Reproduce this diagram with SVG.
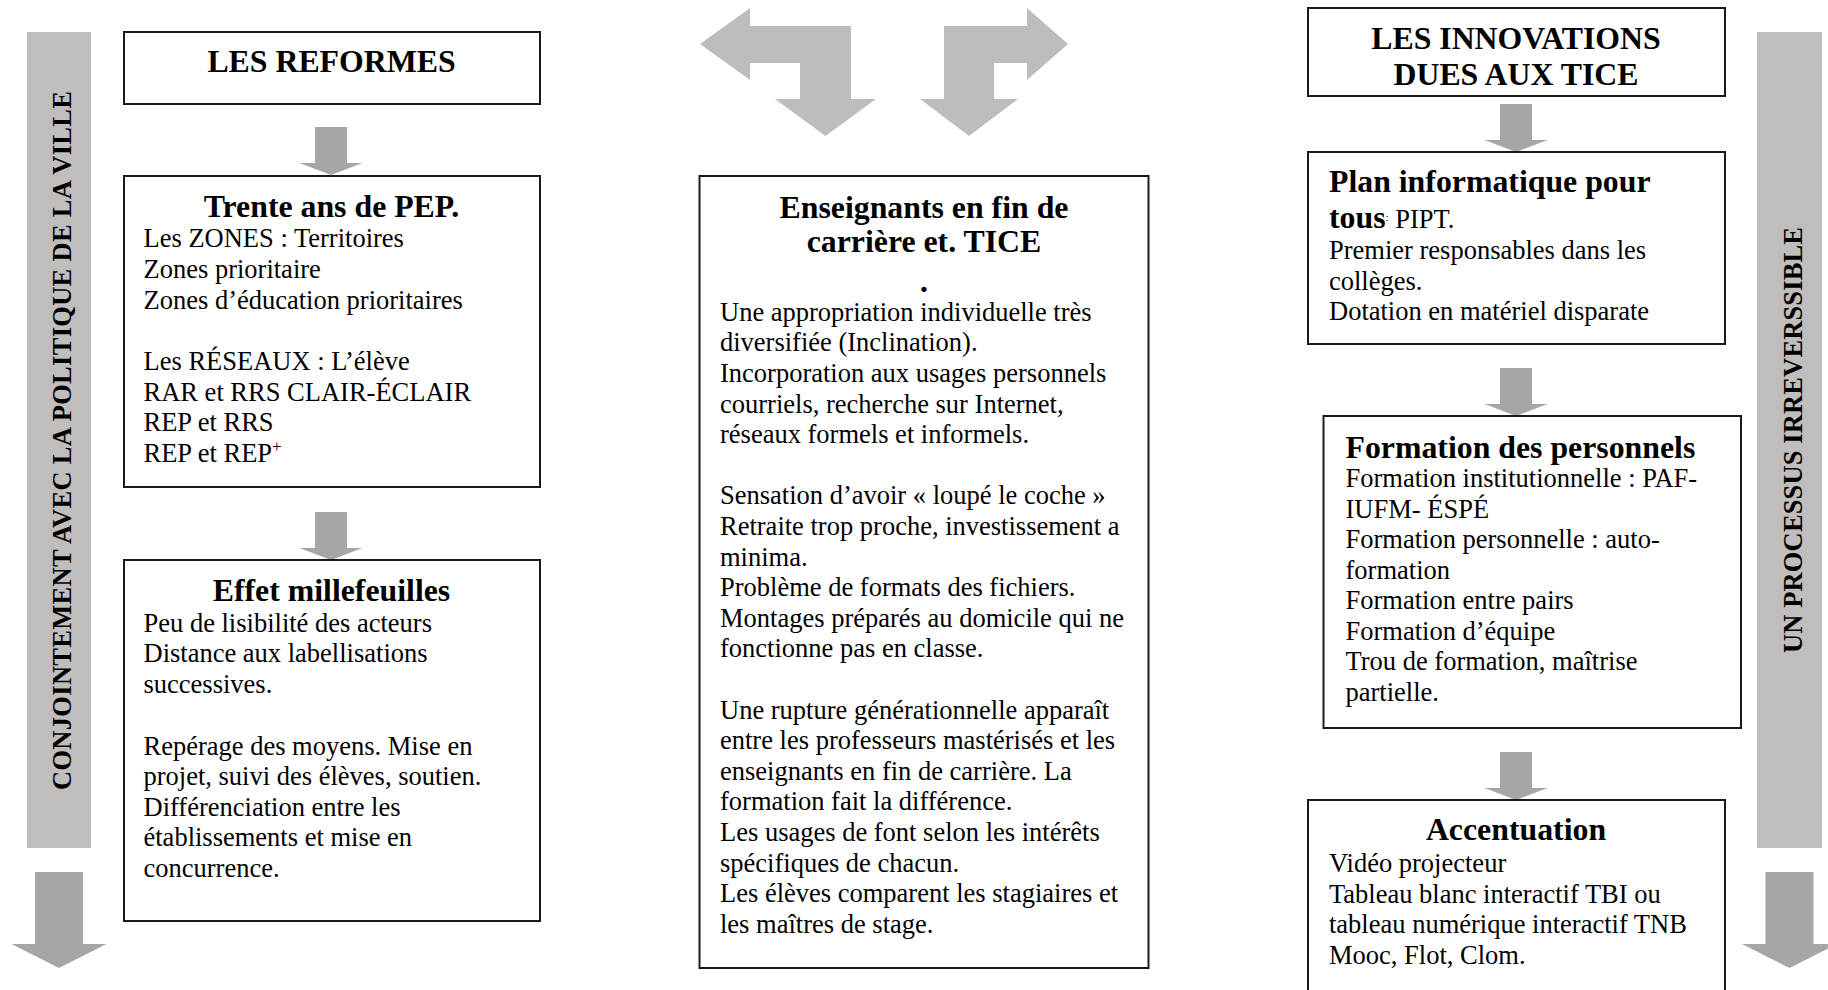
<svg xmlns="http://www.w3.org/2000/svg" xmlns:xlink="http://www.w3.org/1999/xlink" width="1828" height="990" viewBox="0 0 1828 990">
<defs>
<style>
.box{fill:#fff;stroke:#1a1a1a;stroke-width:2}
.t{font-family:"Liberation Serif","Times New Roman",serif;font-size:26.5px;fill:#000}
.h{font-weight:bold;font-size:31.8px}
.b{font-weight:bold}
.c{text-anchor:middle}
.bar{fill:#c0bdbd}
.arr{fill:#a6a6a6}
.bent{fill:#c0bcbb}
</style>
<path id="sa" d="M-16,0 H16 V36 H31.5 L0,48 L-31.5,36 H-16 Z"/>
<path id="ba" d="M-24,0 H24 V72 H47.5 L0,96 L-47.5,72 H-24 Z"/>
</defs>
<rect width="1828" height="990" fill="#fff"/>

<g id="side-left">
<rect class="bar" x="27" y="32" width="64" height="816"/>
<text class="t b c" font-size="26" transform="translate(71,440.5) rotate(-90)" textLength="699">CONJOINTEMENT AVEC LA POLITIQUE DE LA VILLE</text>
</g>
<g id="side-right">
<rect class="bar" x="1757" y="32" width="65" height="816"/>
<text class="t b c" font-size="26" transform="translate(1802,440) rotate(-90)" textLength="426">UN PROCESSUS IRREVERSSIBLE</text>
</g>

<g id="connectors">
<use xlink:href="#sa" class="arr" transform="translate(331,127)"/>
<use xlink:href="#sa" class="arr" transform="translate(331,512)"/>
<use xlink:href="#sa" class="arr" transform="translate(1516,104)"/>
<use xlink:href="#sa" class="arr" transform="translate(1516,368)"/>
<use xlink:href="#sa" class="arr" transform="translate(1516,752)"/>
<use xlink:href="#ba" class="arr" transform="translate(59,872)"/>
<use xlink:href="#ba" class="arr" transform="translate(1789.5,872)"/>
<polygon class="bent" points="700,44 750,8 750,26 851,26 851,99 876,99 825.5,136 775,99 800,99 800,63 750,63 750,80"/>
<polygon class="bent" points="1068,44 1027,8 1027,26 944,26 944,99 920,99 969,136 1018,99 994,99 994,63 1027,63 1027,80"/>
</g>

<g id="reformes">
<rect class="box" x="124" y="32" width="416" height="72"/>
<text class="t h c" x="331.5" y="71.7">LES REFORMES</text>
</g>

<g id="trente">
<rect class="box" x="124" y="176" width="416" height="311"/>
<text class="t h c" x="331.5" y="216.5">Trente ans de PEP.</text>
<text class="t" x="143.5">
<tspan x="143.5" y="247.3">Les ZONES : Territoires</tspan>
<tspan x="143.5" y="278">Zones prioritaire</tspan>
<tspan x="143.5" y="308.5">Zones d’éducation prioritaires</tspan>
<tspan x="143.5" y="370">Les RÉSEAUX : L’élève</tspan>
<tspan x="143.5" y="400.5">RAR et RRS CLAIR-ÉCLAIR</tspan>
<tspan x="143.5" y="431">REP et RRS</tspan>
<tspan x="143.5" y="461.5">REP et REP<tspan font-size="17" dy="-10">+</tspan></tspan>
</text>
</g>

<g id="effet">
<rect class="box" x="124" y="560" width="416" height="361"/>
<text class="t h c" x="331.5" y="600.5">Effet millefeuilles</text>
<text class="t">
<tspan x="143.5" y="631.5">Peu de lisibilité des acteurs</tspan>
<tspan x="143.5" y="662">Distance aux labellisations</tspan>
<tspan x="143.5" y="692.5">successives.</tspan>
<tspan x="143.5" y="754.5">Repérage des moyens. Mise en</tspan>
<tspan x="143.5" y="785">projet, suivi des élèves, soutien.</tspan>
<tspan x="143.5" y="815.5">Différenciation entre les</tspan>
<tspan x="143.5" y="846">établissements et mise en</tspan>
<tspan x="143.5" y="876.5">concurrence.</tspan>
</text>
</g>

<g id="enseignants">
<rect class="box" x="699.5" y="176" width="449" height="792"/>
<text class="t h c" x="924" y="218.3">Enseignants en fin de</text>
<text class="t h c" x="924" y="251.7">carrière et. TICE</text>
<text class="t h c" x="924" y="292">.</text>
<text class="t">
<tspan x="720" y="320.7">Une appropriation individuelle très</tspan>
<tspan x="720" y="351.3">diversifiée (Inclination).</tspan>
<tspan x="720" y="381.9">Incorporation aux usages personnels</tspan>
<tspan x="720" y="412.5">courriels, recherche sur Internet,</tspan>
<tspan x="720" y="443.1">réseaux formels et informels.</tspan>
<tspan x="720" y="504.3">Sensation d’avoir « loupé le coche »</tspan>
<tspan x="720" y="534.9">Retraite trop proche, investissement a</tspan>
<tspan x="720" y="565.5">minima.</tspan>
<tspan x="720" y="596.1">Problème de formats des fichiers.</tspan>
<tspan x="720" y="626.7">Montages préparés au domicile qui ne</tspan>
<tspan x="720" y="657.3">fonctionne pas en classe.</tspan>
<tspan x="720" y="718.5">Une rupture générationnelle apparaît</tspan>
<tspan x="720" y="749.1">entre les professeurs mastérisés et les</tspan>
<tspan x="720" y="779.7">enseignants en fin de carrière. La</tspan>
<tspan x="720" y="810.3">formation fait la différence.</tspan>
<tspan x="720" y="840.9">Les usages de font selon les intérêts</tspan>
<tspan x="720" y="871.5">spécifiques de chacun.</tspan>
<tspan x="720" y="902.1">Les élèves comparent les stagiaires et</tspan>
<tspan x="720" y="932.7">les maîtres de stage.</tspan>
</text>
</g>

<g id="innovations">
<rect class="box" x="1308" y="8" width="417" height="88"/>
<text class="t h c" x="1516" y="48.5">LES INNOVATIONS</text>
<text class="t h c" x="1516" y="84.5">DUES AUX TICE</text>
</g>

<g id="plan">
<rect class="box" x="1308" y="152" width="417" height="192"/>
<text class="t h" x="1329" y="192">Plan informatique pour</text>
<text class="t" x="1329" y="228"><tspan class="h">tous</tspan><tspan font-size="11" dy="-7">:</tspan><tspan dy="7"> PIPT.</tspan></text>
<text class="t">
<tspan x="1329" y="259">Premier responsables dans les</tspan>
<tspan x="1329" y="289.5">collèges.</tspan>
<tspan x="1329" y="320">Dotation en matériel disparate</tspan>
</text>
</g>

<g id="formation">
<rect class="box" x="1323.5" y="416" width="417.5" height="312"/>
<text class="t h" x="1345.5" y="457.5">Formation des personnels</text>
<text class="t">
<tspan x="1345.5" y="487">Formation institutionnelle : PAF-</tspan>
<tspan x="1345.5" y="517.5">IUFM- ÉSPÉ</tspan>
<tspan x="1345.5" y="548">Formation personnelle : auto-</tspan>
<tspan x="1345.5" y="578.5">formation</tspan>
<tspan x="1345.5" y="609">Formation entre pairs</tspan>
<tspan x="1345.5" y="639.5">Formation d’équipe</tspan>
<tspan x="1345.5" y="670">Trou de formation, maîtrise</tspan>
<tspan x="1345.5" y="700.5">partielle.</tspan>
</text>
</g>

<g id="accentuation">
<rect class="box" x="1308" y="800" width="417" height="220"/>
<text class="t h c" x="1516" y="840">Accentuation</text>
<text class="t">
<tspan x="1329" y="872">Vidéo projecteur</tspan>
<tspan x="1329" y="902.5">Tableau blanc interactif TBI ou</tspan>
<tspan x="1329" y="933">tableau numérique interactif TNB</tspan>
<tspan x="1329" y="963.5">Mooc, Flot, Clom.</tspan>
</text>
</g>
</svg>
